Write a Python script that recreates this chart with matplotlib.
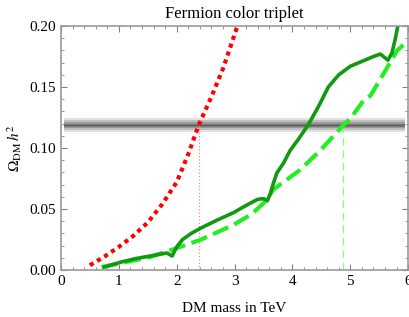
import numpy as np
import matplotlib.pyplot as plt
from matplotlib.ticker import MultipleLocator

plt.rcParams['font.family'] = 'Liberation Serif'
plt.rcParams['mathtext.fontset'] = 'stix'

# red dotted curve
red_x = [0.5, 0.75, 1.0, 1.25, 1.5, 1.75, 2.0, 2.2, 2.38, 2.6, 2.8, 3.05]
red_y = [0.004, 0.011, 0.019, 0.028, 0.039, 0.054, 0.072, 0.095, 0.1188, 0.142, 0.165, 0.2]

# dark green solid curve
sol_x = [0.75, 1.04, 1.3, 1.54, 1.83, 1.92, 2.0, 2.1, 2.25, 2.4, 2.7, 2.98, 3.2, 3.4, 3.5, 3.57,
         3.62, 3.67, 3.73, 3.85, 3.96, 4.1, 4.27, 4.45, 4.62, 4.8, 5.0, 5.2, 5.4, 5.52, 5.65,
         5.72, 5.78, 5.82]
sol_y = [0.0025, 0.0066, 0.0095, 0.0115, 0.014, 0.0115, 0.019, 0.025, 0.030, 0.034, 0.041, 0.047, 0.053, 0.058, 0.0585, 0.057,
         0.063, 0.071, 0.0795, 0.088, 0.098, 0.107, 0.1188, 0.134, 0.15, 0.16, 0.167, 0.171, 0.175, 0.177, 0.172,
         0.178, 0.19, 0.2]

# light green dashed curve
dsh_x = [0.7, 1.04, 1.54, 2.0, 2.4, 2.98, 3.3, 3.55, 3.67, 4.13, 4.48, 4.88, 5.0, 5.23, 5.35, 5.6, 5.81, 6.0]
dsh_y = [0.0025, 0.0057, 0.0107, 0.018, 0.0246, 0.037, 0.046, 0.057, 0.066, 0.082, 0.098, 0.1188, 0.124, 0.139, 0.143, 0.163, 0.18, 0.188]

omega_obs = 0.1188
red_cross = 2.38
dsh_cross = 4.88

fig = plt.figure(figsize=(4.09, 3.17), dpi=100)
ax = fig.add_axes([0.149, 0.148, 0.849, 0.77])

# observed relic band
for w, a in [(0.0055, 0.18), (0.004, 0.25), (0.0025, 0.35), (0.0012, 0.5), (0.0004, 0.8)]:
    ax.fill_between([0.05, 5.95], omega_obs - w, omega_obs + w, color='0.35', alpha=a, lw=0)

ax.plot([red_cross, red_cross], [0, omega_obs], color='#ff7070', lw=0.8, ls=(0, (1, 2)))
ax.plot([dsh_cross, dsh_cross], [0, omega_obs], color='#80ff80', lw=0.9, ls=(0, (6, 4)))

ax.plot(red_x, red_y, color='#ff0000', lw=3, ls=(0, (1, 1)))
ax.plot(dsh_x, dsh_y, color='#22ee22', lw=3, ls=(0, (4, 1.6)))
ax.plot(sol_x, sol_y, color='#119911', lw=2.6)

ax.set_xlim(0, 6)
ax.set_ylim(0, 0.2)
ax.xaxis.set_major_locator(MultipleLocator(1))
ax.xaxis.set_minor_locator(MultipleLocator(0.2))
ax.yaxis.set_major_locator(MultipleLocator(0.05))
ax.yaxis.set_minor_locator(MultipleLocator(0.01))
ax.yaxis.set_major_formatter(plt.FormatStrFormatter('%.2f'))
ax.tick_params(which='both', direction='in', top=True, right=True, color='0.5',
               labelsize=11)
ax.tick_params(which='major', length=4)
ax.tick_params(which='minor', length=2)
for s in ax.spines.values():
    s.set_color('0.6')
    s.set_linewidth(1.2)

ax.set_xlabel('DM mass in TeV', fontsize=11, labelpad=10)
ax.set_ylabel(r'$\Omega_{\rm DM}\,h^2$', fontsize=11, labelpad=4)
ax.set_title('Fermion color triplet', fontsize=12, pad=6)

fig.savefig('out.png', dpi=100)
